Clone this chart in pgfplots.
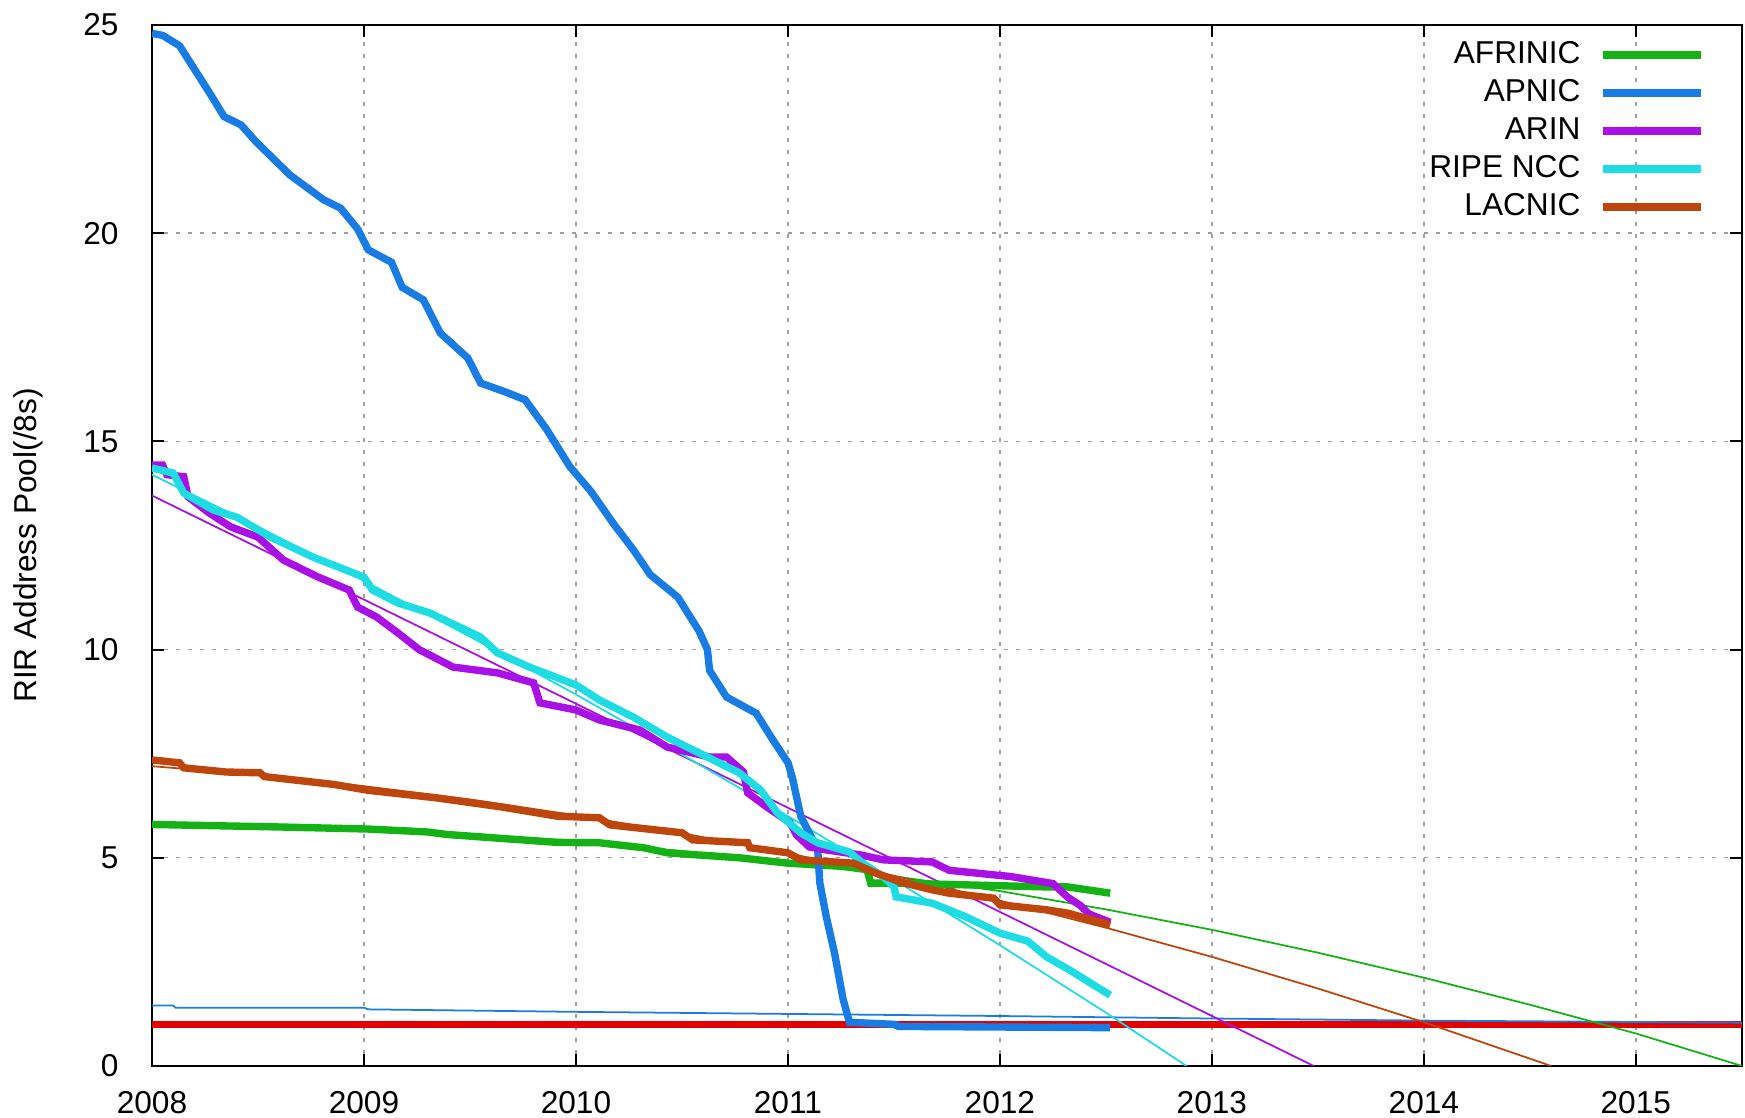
\documentclass[border=0pt]{standalone}
\usepackage{fontspec}
\setmainfont{Liberation Sans}
\usepackage{pgfplots}
\pgfplotsset{compat=1.18}

\definecolor{cafr}{RGB}{20,178,20}
\definecolor{capn}{RGB}{24,124,228}
\definecolor{carin}{RGB}{168,16,230}
\definecolor{cripe}{RGB}{30,220,228}
\definecolor{clac}{RGB}{190,70,12}
\definecolor{cred}{RGB}{228,0,0}

\begin{document}
\begin{tikzpicture}[font=\fontsize{9}{11}\selectfont]
\begin{axis}[
  name=ax,
  width=159mm, height=104.1mm, scale only axis,
  xmin=2008, xmax=2015.5, ymin=0, ymax=25,
  xtick={2008,2009,...,2015}, ytick={0,5,...,25},
  /pgf/number format/assume math mode=true,
  /pgf/number format/set thousands separator={},
  grid=major,
  major grid style={gray!75, line width=0.4pt, dash pattern=on 0.4mm off 0.8mm},
  tick align=inside, major tick length=1.2mm,
  xtick pos=both, ytick pos=both,
  axis line style={line width=0.6pt},
  tick style={line width=0.6pt, black},
  xticklabel style={yshift=-1.3mm},
  yticklabel style={xshift=-2.1mm},
  ylabel={RIR Address Pool(/8s)},
  ylabel style={at={(axis description cs:-0.078,0.5)}, anchor=center},
  legend plot pos=right,
  legend cell align=right,
  legend image code/.code={\draw[#1] (0mm,0mm) -- (9.8mm,0mm);},
  legend style={draw=none, fill=none, at={(axis description cs:1,1)},
    anchor=north east, xshift=-3.7mm, yshift=-1.56mm,
    inner sep=0pt, row sep=1.07mm, column sep=1.85mm,
    nodes={inner sep=0pt}},
]
% trend lines and reference
\addplot[cred, line width=1.9pt, forget plot] coordinates {(2007.9,1.0) (2015.6,1.0)};
\addplot[capn, line width=0.5pt, forget plot] coordinates {
  (2008.0,1.45) (2008.1,1.45) (2008.11,1.40) (2009.0,1.40) (2009.02,1.36)
  (2010,1.30) (2011,1.25) (2012,1.20) (2013,1.14) (2014,1.09) (2015.5,1.04)};
\addplot[cafr, line width=0.5pt, forget plot] coordinates {
  (2008,5.75) (2009,5.69) (2010,5.41) (2011,4.91) (2012,4.20) (2012.5,3.76)
  (2013,3.27) (2013.5,2.72) (2014,2.12) (2014.5,1.47) (2015,0.78) (2015.5,0.0)};
\addplot[carin, line width=0.5pt, forget plot] coordinates {(2008,13.7) (2013.48,0)};
\addplot[cripe, line width=0.5pt, forget plot] coordinates {
  (2008,14.2) (2008.5,12.95) (2009,11.65) (2009.5,10.31) (2010,8.92) (2010.5,7.48)
  (2011,6.00) (2011.5,4.47) (2012,2.90) (2012.5,1.28) (2012.88,0)};
\addplot[clac, line width=0.5pt, forget plot] coordinates {
  (2008,7.2) (2008.5,6.99) (2009,6.72) (2009.5,6.40) (2010,6.02) (2010.5,5.59)
  (2011,5.11) (2011.5,4.57) (2012,3.97) (2012.5,3.32) (2013,2.62) (2013.5,1.86)
  (2014,1.05) (2014.6,0)};
% data
\addplot[cafr, line width=2.1pt] coordinates {
  (2008.0,5.8) (2008.6,5.74) (2009.02,5.69) (2009.3,5.62) (2009.39,5.56)
  (2009.91,5.37) (2010.11,5.36) (2010.32,5.24) (2010.43,5.12) (2010.77,5.0)
  (2011.0,4.87) (2011.37,4.76) (2011.39,4.39) (2011.53,4.39) (2012.22,4.3)
  (2012.32,4.3) (2012.52,4.15)};
\addlegendentry{AFRINIC}
\addplot[capn, line width=2.1pt] coordinates {
  (2008.0,24.8) (2008.05,24.75) (2008.13,24.5) (2008.18,24.1) (2008.23,23.7)
  (2008.28,23.3) (2008.34,22.8) (2008.42,22.6) (2008.49,22.2) (2008.57,21.8)
  (2008.65,21.4) (2008.73,21.1) (2008.81,20.8) (2008.89,20.6) (2008.97,20.1)
  (2009.02,19.6) (2009.13,19.3) (2009.18,18.7) (2009.28,18.4) (2009.36,17.6)
  (2009.49,17.0) (2009.55,16.4) (2009.66,16.2) (2009.76,16.0) (2009.86,15.3)
  (2009.97,14.4) (2010.07,13.8) (2010.18,13.0) (2010.27,12.4) (2010.35,11.8)
  (2010.48,11.26) (2010.58,10.45) (2010.62,10.0) (2010.63,9.5) (2010.71,8.86)
  (2010.85,8.47) (2010.92,7.9) (2011.0,7.28) (2011.02,6.94) (2011.06,6.0)
  (2011.14,5.2) (2011.15,4.4) (2011.18,3.6) (2011.22,2.7) (2011.26,1.6)
  (2011.29,1.05) (2011.5,1.0) (2011.52,0.95) (2012.52,0.92)};
\addlegendentry{APNIC}
\addplot[carin, line width=2.1pt] coordinates {
  (2008.0,14.43) (2008.05,14.43) (2008.07,14.2) (2008.15,14.15) (2008.17,13.67)
  (2008.27,13.28) (2008.37,12.95) (2008.50,12.7) (2008.62,12.15) (2008.78,11.75)
  (2008.93,11.43) (2008.97,11.02) (2009.06,10.78) (2009.16,10.4) (2009.26,10.0)
  (2009.42,9.58) (2009.63,9.44) (2009.80,9.2) (2009.83,8.72) (2010.0,8.55)
  (2010.11,8.31) (2010.30,8.07) (2010.43,7.66) (2010.63,7.42) (2010.71,7.42)
  (2010.79,7.06) (2010.81,6.56) (2010.90,6.22) (2011.01,5.84) (2011.04,5.55)
  (2011.10,5.26) (2011.18,5.19) (2011.34,5.07) (2011.45,4.95) (2011.68,4.9)
  (2011.76,4.7) (2011.95,4.6) (2012.05,4.55) (2012.25,4.38) (2012.32,4.05)
  (2012.38,3.85) (2012.42,3.65) (2012.52,3.45)};
\addlegendentry{ARIN}
\addplot[cripe, line width=2.1pt] coordinates {
  (2008.0,14.36) (2008.1,14.24) (2008.15,13.76) (2008.29,13.35) (2008.40,13.18)
  (2008.56,12.7) (2008.76,12.22) (2009.0,11.74) (2009.04,11.43) (2009.16,11.12)
  (2009.31,10.88) (2009.55,10.3) (2009.63,9.92) (2009.78,9.58) (2010.0,9.15)
  (2010.11,8.79) (2010.27,8.38) (2010.43,7.9) (2010.58,7.52) (2010.77,7.04)
  (2010.87,6.63) (2010.95,6.08) (2011.06,5.6) (2011.14,5.36) (2011.29,5.14)
  (2011.35,4.88) (2011.45,4.54) (2011.5,4.3) (2011.51,4.06) (2011.68,3.91)
  (2011.84,3.58) (2012.0,3.19) (2012.13,3.0) (2012.22,2.62) (2012.33,2.3)
  (2012.44,1.95) (2012.52,1.7)};
\addlegendentry{RIPE NCC}
\addplot[clac, line width=2.1pt] coordinates {
  (2008.0,7.35) (2008.13,7.28) (2008.15,7.16) (2008.35,7.06) (2008.51,7.04)
  (2008.53,6.95) (2008.86,6.76) (2009.02,6.62) (2009.34,6.44) (2009.65,6.22)
  (2009.91,6.0) (2010.11,5.96) (2010.16,5.79) (2010.50,5.6) (2010.55,5.43)
  (2010.81,5.36) (2010.82,5.24) (2011.0,5.12) (2011.06,4.95) (2011.31,4.87)
  (2011.40,4.66) (2011.53,4.42) (2011.68,4.23) (2011.76,4.15) (2011.97,4.03)
  (2012.0,3.87) (2012.22,3.75) (2012.32,3.67) (2012.52,3.39)};
\addlegendentry{LACNIC}
\end{axis}
\pgfresetboundingbox
\path[use as bounding box] ([xshift=-15.2mm,yshift=-5.2mm]ax.south west)
  rectangle ([xshift=0.3mm,yshift=2.5mm]ax.north east);
\end{tikzpicture}
\end{document}
